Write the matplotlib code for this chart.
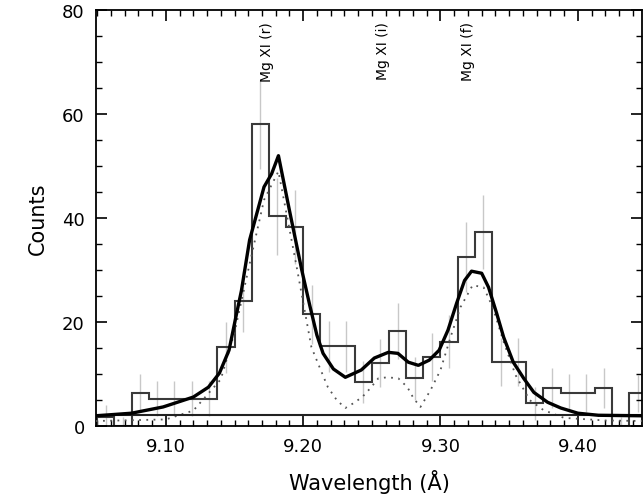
import numpy as np
import matplotlib
matplotlib.use('Agg')
import matplotlib.pyplot as plt
from matplotlib.ticker import MultipleLocator

# histogram bins (Angstrom), 0.0125 wide
edges = np.arange(9.05, 9.4501, 0.0125)
counts = [1.7, 0, 6.4, 5.3, 5.3, 5.3, 5.3, 15.2, 24, 58, 40.4, 38.3, 21.5, 15.4,
          15.4, 8.5, 12.1, 18.3, 9.2, 13.3, 16.2, 32.5, 37.3, 12.3, 12.3, 4.4,
          7.3, 6.4, 6.4, 7.3, 0, 6.3]
errs = [2.4, 1.8, 3.6, 3.4, 3.4, 3.4, 3.4, 4.9, 5.9, 8.6, 7.4, 7.2, 5.7, 4.9,
        4.9, 4.0, 4.6, 5.3, 4.1, 4.7, 5.1, 6.7, 7.1, 4.6, 4.6, 3.2, 3.8, 3.6,
        3.6, 3.8, 1.8, 3.6]

# folded model (solid)
model_wave = [9.049, 9.075, 9.098, 9.120, 9.131, 9.139, 9.146, 9.151, 9.155,
              9.161, 9.1715, 9.177, 9.182, 9.190, 9.199, 9.205, 9.210, 9.2145,
              9.222, 9.2307, 9.2423, 9.2518, 9.262, 9.269, 9.2766,
              9.2839, 9.2918, 9.299, 9.3055, 9.3117, 9.3175, 9.3226, 9.330,
              9.335, 9.3409, 9.346, 9.353, 9.3606, 9.368, 9.378, 9.3876, 9.40,
              9.415, 9.447]
model_cts = [2.0, 2.5, 3.7, 5.6, 7.5, 10.2, 14.6, 21, 26, 35.8, 46, 48.5, 52,
             41.5, 30, 23, 17.5, 14, 11, 9.4, 10.8, 13.1, 14.2, 14.0,
             12.3, 11.7, 12.7, 14.6, 18.5, 23.6, 28, 29.8, 29.4, 26.7, 21.7,
             17.1, 12.3, 9.2, 6.5, 4.6, 3.5, 2.5, 2.1, 2.0]

# line components (dotted)
comp_wave = [9.049, 9.10, 9.12, 9.14, 9.15, 9.16, 9.1715, 9.182, 9.195, 9.206,
             9.212, 9.218, 9.2245, 9.2307, 9.2365, 9.243, 9.2489, 9.2547,
             9.2613, 9.2693, 9.2759, 9.2803, 9.2854, 9.2927, 9.30, 9.3073,
             9.3146, 9.3234, 9.3314, 9.338, 9.346, 9.3547, 9.365, 9.375, 9.39,
             9.42, 9.447]
comp_cts = [1.0, 1.3, 3.0, 9, 18, 30, 43.5, 49, 31, 15.2, 11.3, 7.5, 5.0, 3.5,
            4.4, 5.6, 7.3, 9.2, 9.4, 9.2, 7.5, 5.4, 3.7, 6.9, 10.8, 17.1, 22.9,
            27.1, 26.7, 22.9, 16.2, 9.8, 5.0, 3.1, 1.6, 1.1, 1.0]

continuum = 2.1

line_labels = ['Mg XI (r)', 'Mg XI (i)', 'Mg XI (f)']
line_pos = [9.174, 9.258, 9.320]

fig = plt.figure(figsize=(6.43, 5.02), dpi=100)
ax = fig.add_axes([0.149, 0.149, 0.85, 0.829])

centers = edges[:-1] + 0.00625
ax.errorbar(centers, counts, yerr=errs, fmt='none', ecolor='#c8c8c8',
            elinewidth=1, capsize=0, zorder=1)
ax.stairs(counts, edges, color='#3a3a3a', lw=1.5, zorder=2)
ax.plot(comp_wave, comp_cts, color='#555555', lw=1.3,
        linestyle=(0, (1, 3)), zorder=3)
ax.plot(model_wave, model_cts, color='black', lw=2.4, zorder=4)
ax.axhline(continuum, color='#222222', lw=1.5, zorder=3)

for lab, pos in zip(line_labels, line_pos):
    ax.text(pos, 77.8, lab, rotation=90, ha='center', va='top', fontsize=10)

ax.set_xlim(9.049, 9.447)
ax.set_ylim(0, 80)
ax.xaxis.set_major_locator(MultipleLocator(0.1))
ax.xaxis.set_minor_locator(MultipleLocator(0.01))
ax.yaxis.set_major_locator(MultipleLocator(20))
ax.yaxis.set_minor_locator(MultipleLocator(5))
ax.tick_params(which='both', direction='in', top=True, right=True)
ax.tick_params(which='major', length=8, width=1.2, labelsize=13, pad=8)
ax.tick_params(which='minor', length=4, width=1)
ax.set_xticks([9.1, 9.2, 9.3, 9.4])
ax.set_xticklabels(['9.10', '9.20', '9.30', '9.40'])
for s in ax.spines.values():
    s.set_linewidth(1.3)

ax.set_xlabel('Wavelength (Å)', fontsize=15, labelpad=10)
ax.set_ylabel('Counts', fontsize=15, labelpad=10)

fig.savefig('out.png', dpi=100)
